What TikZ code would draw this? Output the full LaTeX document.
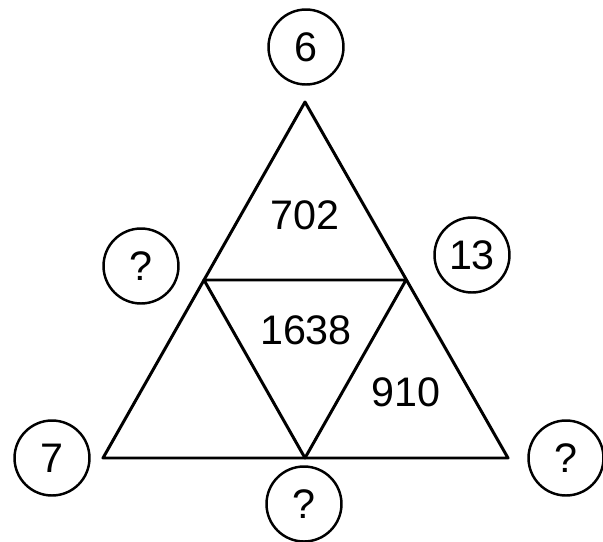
\documentclass[tikz,border=0pt]{standalone}
\usepackage{fontspec}
\setmainfont{Liberation Sans}
\begin{document}
\begin{tikzpicture}[x=0.02cm,y=-0.02cm,line join=round,
		font=\fontsize{23.5}{28}\selectfont,
		ring/.style={draw,circle,line width=1.4pt,minimum size=1.5cm,inner sep=0pt},
		edge/.style={line width=1.7pt}]
					\useasboundingbox (0,0) rectangle (603,542);
					\coordinate (A) at (305,102);
					\coordinate (B) at (103,458);
					\coordinate (C) at (508,458);
					\coordinate (AB) at (204,280);
					\coordinate (AC) at (406,280);
					\coordinate (BC) at (305,458);
					\draw[edge] (A)--(B)--(C)--cycle;
					\draw[edge] (AB)--(AC)--(BC)--cycle;
					\node (top) at (305,215) {702};
					\node (mid) at (306,330) {1638};
					\node (right) at (406,392) {910};
					\node[ring] (c6) at (306,47) {6};
					\node[ring] (cl) at (141,266) {?};
					\node[ring] (c13) at (472,255) {13};
					\node[ring] (c7) at (52,458) {7};
					\node[ring] (cb) at (304,504) {?};
					\node[ring] (cr) at (566,458) {?};
				\end{tikzpicture}
\end{document}
